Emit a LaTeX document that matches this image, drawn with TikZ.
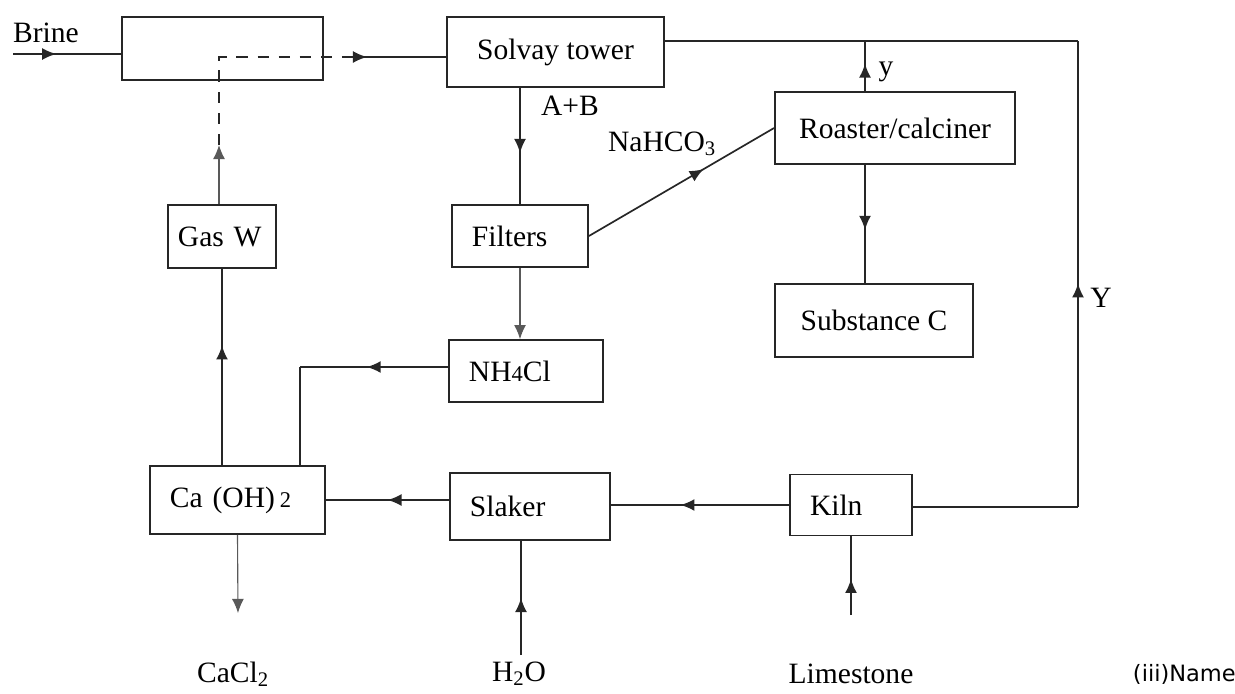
\documentclass[tikz,border=0pt]{standalone}
\usepackage{fontspec}
\setmainfont{Liberation Serif}
\newfontfamily\notefont{DejaVu Sans}
\usepackage{tikz}
\usetikzlibrary{arrows.meta,positioning,decorations.markings}
\newcommand{\smallnum}[1]{{\fontsize{16}{16}\selectfont #1}}

\begin{document}
\begin{tikzpicture}[x=0.025cm, y=-0.025cm, every node/.style={font=\fontsize{21}{24}\selectfont}, unitbox/.style={draw,line width=1.3pt,color=black!85,text=black}, lbox/.style={unitbox,align=left,inner xsep=0.5cm,text width=#1}, flow/.style={line width=1.2pt,color=black!85}, thinflow/.style={line width=0.8pt,color=black!65}, midarr/.style={postaction={decorate,decoration={markings,mark=at position #1 with {\arrow{Latex[length=10pt,width=8.5pt]}}}}}]
\useasboundingbox (0,0) rectangle (1235,693);
% units
\node[unitbox,minimum width=5.025cm,minimum height=1.575cm] (mixer) at (222.5,48.5) {};
\node[unitbox,minimum width=5.425cm,minimum height=1.75cm] (solvay) at (555.5,52) {Solvay tower};
\node[unitbox,minimum width=6cm,minimum height=1.8cm] (roaster) at (895,128) {Roaster/calciner};
\node[unitbox,minimum width=4.95cm,minimum height=1.825cm] (substc) at (874,320.5) {Substance C};
\node[lbox=2.4cm,minimum height=1.55cm] (filters) at (520,236) {Filters};
\node[lbox=2.2cm,inner xsep=0.25cm,minimum height=1.575cm] (gasw) at (222,236.5) {Gas W};
\node[lbox=2.85cm,minimum height=1.55cm] (nhcl) at (526,371) {NH\smallnum{4}Cl};
\node[lbox=3.375cm,minimum height=1.7cm] (caoh) at (237.5,500) {Ca (OH)\,\smallnum{2}};
\node[lbox=3cm,minimum height=1.675cm] (slaker) at (530,506.5) {Slaker};
\node[lbox=2.05cm,minimum height=1.525cm] (kiln) at (851,505) {Kiln};
% labels
\node (brine) at (46,33) {Brine};
\node (ablabel) at (570,106) {A+B};
\node (nahco) at (662,144) {NaHCO\textsubscript{3}};
\node (ylow) at (886,72) {y};
\node (yup) at (1101,298) {Y};
\node (cacl) at (233,674) {CaCl\textsubscript{2}};
\node (water) at (519,674) {H\textsubscript{2}O};
\node (lime) at (851,674) {Limestone};
\node[anchor=west,font=\notefont\fontsize{16}{19}\selectfont] (qname) at (1128,674) {(iii)Name};
% free ends and bends
\coordinate (brinein) at (13,54);
\coordinate (gtip) at (219,145);
\coordinate (gcorner) at (219,57);
\coordinate (dashend) at (367,57);
\coordinate (cornerlow) at (1078,507);
\coordinate (cornerup) at (1078,41);
\coordinate (ytop) at (865,41);
\coordinate (nhbend) at (300,367);
\coordinate (caclend) at (238,613);
\coordinate (waterin) at (521,655);
\coordinate (limein) at (851,615);
% streams
\draw[flow,midarr=0.4] (brinein) -- (brinein -| mixer.west);
\draw[thinflow,-{Latex[length=10pt,width=8.5pt]}] (gasw.north -| gtip) -- (gtip);
\draw[flow,dash pattern=on 8pt off 7pt] (gtip) -- (gcorner) -- (dashend);
\draw[flow,{Latex[length=10pt,width=8.5pt]}-] (dashend) -- ++(-10,0);
\draw[flow] (dashend) -- (dashend -| solvay.west);
\draw[flow] (kiln.east |- cornerlow) -- (cornerlow);
\draw[flow,midarr=0.48] (cornerlow) -- (cornerup);
\draw[flow] (cornerup) -- (cornerup -| solvay.east);
\draw[flow,midarr=0.55] (roaster.north -| ytop) -- (ytop);
\draw[flow,midarr=0.55] (roaster.south -| ytop) -- (substc.north -| ytop);
\draw[flow,midarr=0.56] (solvay.south -| filters.north) -- (filters.north);
\draw[flow,midarr=0.62] (filters.east) -- (roaster.west);
\draw[thinflow,-{Latex[length=10pt,width=8.5pt]}] (filters.south) -- (filters.south |- nhcl.north);
\draw[flow,midarr=0.55] (nhcl.west |- nhbend) -- (nhbend);
\draw[flow] (nhbend) -- (nhbend |- caoh.north);
\draw[flow,midarr=0.61] (caoh.north -| gasw.south) -- (gasw.south);
\draw[flow,midarr=0.5] (slaker.west |- caoh.east) -- (caoh.east);
\draw[flow,midarr=0.61] (kiln.west) -- (kiln.west -| slaker.east);
\draw[thinflow,-{Latex[length=10pt,width=8.5pt]}] (caoh.south) -- (caclend);
\draw[flow,midarr=0.5] (waterin) -- (waterin |- slaker.south);
\draw[flow,midarr=0.46] (limein) -- (kiln.south);
\end{tikzpicture}
\end{document}
